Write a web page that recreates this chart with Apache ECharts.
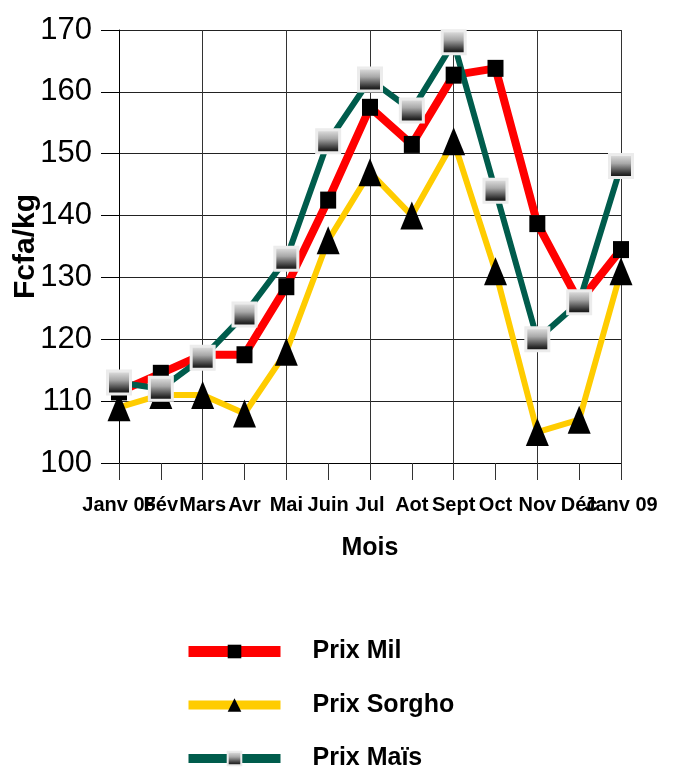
<!DOCTYPE html>
<html>
<head>
<meta charset="utf-8">
<script src="https://cdn.jsdelivr.net/npm/echarts@6/dist/echarts.min.js"></script>
<style>
  html, body { margin: 0; padding: 0; background: #fff; }
  #main { width: 674px; height: 770px; }
</style>
</head>
<body>
<div id="main"></div>
<script>
var mois = ['Janv 08', 'Fév', 'Mars', 'Avr', 'Mai', 'Juin', 'Jul', 'Aot', 'Sept', 'Oct', 'Nov', 'Déc', 'Janv 09'];
var prixMil = [111.5, 114.5, 117.5, 117.5, 128.5, 142.5, 157.5, 151.5, 162.7, 163.8, 138.7, 126, 134.5];
var prixSorgho = [109, 111, 111, 108, 118, 136, 147, 140, 152, 131, 105, 107, 131];
var prixMais = [113, 112, 117, 124, 133, 152, 162, 157, 168, 144, 120, 126, 148];
var seriesNames = ['Prix Mil', 'Prix Sorgho', 'Prix Maïs'];

var font = "'Liberation Sans', Arial, sans-serif";

var chart = echarts.init(document.getElementById('main'), null, { renderer: 'canvas' });

// gris degrade des marqueurs mais
var maisFill = new echarts.graphic.LinearGradient(0, 0, 0, 1, [
  { offset: 0, color: '#ececec' },
  { offset: 0.4, color: '#a8a8a8' },
  { offset: 0.8, color: '#2a2a2a' },
  { offset: 1, color: '#000000' }
]);

var option = {
  backgroundColor: '#fff',
  animation: false,
  grid: { left: 119, right: 53, top: 30, bottom: 307, containLabel: false, outerBoundsMode: 'none' },
  xAxis: {
    type: 'category',
    data: mois,
    boundaryGap: false,
    name: 'Mois',
    nameLocation: 'middle',
    nameGap: 73,
    nameMoveOverlap: false,
    nameTextStyle: { fontFamily: font, fontWeight: 'bold', fontSize: 25, color: '#000' },
    axisLine: { lineStyle: { color: '#000', width: 1 } },
    axisTick: { show: true, length: 17, interval: 0, lineStyle: { color: '#333' } },
    axisLabel: {
      interval: 0, margin: 32, color: '#000',
      fontFamily: font, fontWeight: 'bold', fontSize: 20
    },
    splitLine: { show: true, interval: 1, lineStyle: { color: '#333', width: 1 } }
  },
  yAxis: {
    type: 'value',
    min: 100, max: 170, interval: 10,
    name: 'Fcfa/kg',
    nameLocation: 'middle',
    nameGap: 78,
    nameRotate: 90,
    nameMoveOverlap: false,
    nameTextStyle: { fontFamily: font, fontWeight: 'bold', fontSize: 30, color: '#000' },
    axisLine: { show: true, lineStyle: { color: '#000', width: 1 } },
    axisTick: { show: true, length: 18, lineStyle: { color: '#000' } },
    axisLabel: { margin: 27, color: '#000', fontFamily: font, fontSize: 31 },
    splitLine: { show: true, lineStyle: { color: '#222', width: 1 } }
  },
  legend: {
    orient: 'vertical',
    left: 183,
    top: 639,
    height: 200,
    padding: 0,
    itemWidth: 92,
    itemHeight: 17,
    itemGap: 28.5,
    textStyle: { fontFamily: font, fontWeight: 'bold', fontSize: 25, color: '#000', padding: [0, 0, 0, 27] },
    data: [
      { name: seriesNames[0], lineStyle: { width: 11 } },
      { name: seriesNames[1], lineStyle: { width: 9 } },
      { name: seriesNames[2], lineStyle: { width: 9 } }
    ]
  },
  series: [
    {
      name: seriesNames[0],
      type: 'line',
      data: prixMil,
      symbol: 'rect',
      symbolSize: [16, 17],
      lineStyle: { color: '#ff0000', width: 8 },
      itemStyle: { color: '#000' }
    },
    {
      name: seriesNames[1],
      type: 'line',
      data: prixSorgho,
      symbol: 'triangle',
      symbolSize: [23, 28],
      lineStyle: { color: '#ffcc00', width: 6 },
      itemStyle: { color: '#000' }
    },
    {
      name: seriesNames[2],
      type: 'line',
      data: prixMais,
      symbol: 'rect',
      symbolSize: 23,
      lineStyle: { color: '#005c4c', width: 6 },
      itemStyle: { color: maisFill, borderColor: '#ececec', borderWidth: 3 }
    }
  ]
};

chart.setOption(option);
</script>
</body>
</html>
